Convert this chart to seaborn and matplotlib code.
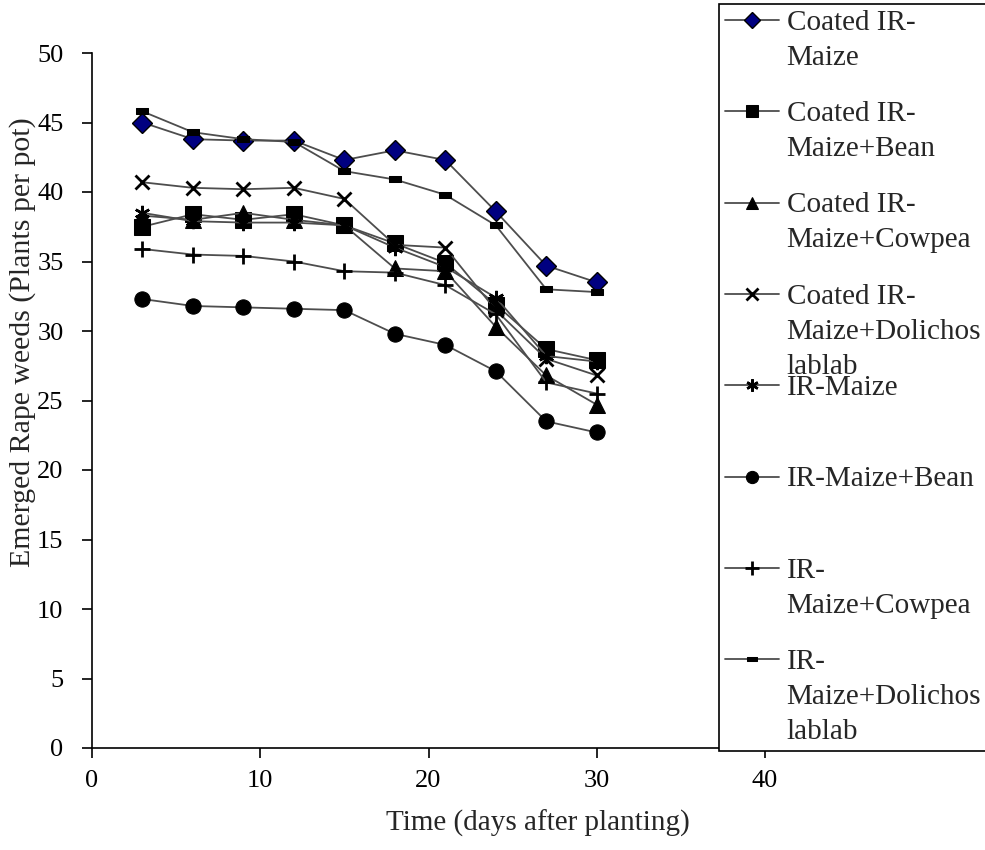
import numpy as np
import pandas as pd
import matplotlib
matplotlib.use("Agg")
import matplotlib.pyplot as plt
import seaborn as sns
from matplotlib.path import Path
from matplotlib.lines import Line2D

# days after planting
days = [3, 6, 9, 12, 15, 18, 21, 24, 27, 30]

coated_ir_maize = [45.0, 43.8, 43.7, 43.7, 42.3, 43.0, 42.3, 38.6, 34.7, 33.5]
coated_ir_maize_bean = [37.5, 38.4, 38.0, 38.4, 37.6, 36.3, 34.9, 31.9, 28.7, 27.9]
coated_ir_maize_cowpea = [38.3, 38.0, 38.5, 38.0, 37.6, 34.5, 34.3, 30.3, 26.8, 24.7]
coated_ir_maize_dolichos = [40.7, 40.3, 40.2, 40.3, 39.5, 36.2, 36.0, 31.5, 28.0, 26.8]
ir_maize = [38.5, 37.9, 37.8, 37.8, 37.6, 36.0, 34.6, 32.4, 28.2, 27.8]
ir_maize_bean = [32.3, 31.8, 31.7, 31.6, 31.5, 29.8, 29.0, 27.1, 23.5, 22.7]
ir_maize_cowpea = [35.9, 35.5, 35.4, 35.0, 34.3, 34.2, 33.3, 31.2, 26.3, 25.5]
ir_maize_dolichos = [45.8, 44.3, 43.8, 43.6, 41.5, 40.9, 39.8, 37.6, 33.0, 32.8]

# legend text, wrapped the way the original chart wraps it
labels = [
    ["Coated IR-", "Maize"],
    ["Coated IR-", "Maize+Bean"],
    ["Coated IR-", "Maize+Cowpea"],
    ["Coated IR-", "Maize+Dolichos", "lablab"],
    ["IR-Maize"],
    ["IR-Maize+Bean"],
    ["IR-", "Maize+Cowpea"],
    ["IR-", "Maize+Dolichos", "lablab"],
]
series = [coated_ir_maize, coated_ir_maize_bean, coated_ir_maize_cowpea,
          coated_ir_maize_dolichos, ir_maize, ir_maize_bean,
          ir_maize_cowpea, ir_maize_dolichos]

# small flat bar marker (Excel "dash")
dash_marker = Path([(-1, -0.45), (1, -0.45), (1, 0.45), (-1, 0.45), (-1, -0.45)],
                   [Path.MOVETO, Path.LINETO, Path.LINETO, Path.LINETO, Path.CLOSEPOLY])

styles = [
    dict(marker="D", ms=10, mfc="#000080", mec="black", mew=1.0),
    dict(marker="s", ms=11, mfc="black", mec="black"),
    dict(marker="^", ms=11, mfc="black", mec="black"),
    dict(marker="x", ms=10, mec="black", mew=2.0),
    dict(marker=(6, 2, 0), ms=11, mec="black", mew=1.8),
    dict(marker="o", ms=11, mfc="black", mec="black"),
    dict(marker="+", ms=12, mec="black", mew=2.0),
    dict(marker=dash_marker, ms=9, mfc="black", mec="black"),
]

sns.set_style("ticks")
plt.rcParams["font.family"] = ["Liberation Serif", "DejaVu Serif"]
plt.rcParams["font.size"] = 19

fig = plt.figure(figsize=(9.85, 8.5), dpi=100)
ax = fig.add_axes([92 / 985, 1 - 748 / 850, (765 - 92) / 985, (748 - 53) / 850])

df = pd.DataFrame({"day": days})
for lab, vals, st in zip(labels, series, styles):
    df["val"] = vals
    sns.lineplot(data=df, x="day", y="val", ax=ax, color="#4d4d4d",
                 linewidth=1.3, label=" ".join(lab), **st)

ax.set_xlim(0, 40)
ax.set_ylim(0, 50)
ax.set_xticks([0, 10, 20, 30, 40])
ax.set_yticks(np.arange(0, 51, 5))
ax.tick_params(axis="both", direction="out", length=7, width=1.2, colors="black",
               labelsize=19)
ax.tick_params(axis="x", pad=9)
ax.tick_params(axis="y", pad=13.5)
for s in ["top", "right"]:
    ax.spines[s].set_visible(False)
for s in ["left", "bottom"]:
    ax.spines[s].set_linewidth(1.2)
    ax.spines[s].set_color("black")

ax.set_xlabel("Time (days after planting)", fontsize=21)
ax.set_ylabel("Emerged Rape weeds (Plants per pot)", fontsize=21.5)
ax.xaxis.set_label_coords(0.663, -0.089)
ax.yaxis.set_label_coords(-0.083, 0.584)

handles, _ = ax.get_legend_handles_labels()
ax.get_legend().remove()

# Excel puts each marker beside the first line of its label and lets the
# wrapped lines run on below, so the legend is built as two layers:
# framed text (every label padded to three lines) + marker column on top.
fs = 21
box = (719 / 985, 0.0, 0.32, 1 - 4 / 850)
common = dict(loc="upper left", bbox_to_anchor=box, fontsize=fs,
              handlelength=1.85, handletextpad=0.27, borderpad=0.2,
              borderaxespad=0)

padded = ["\n".join(lab + [""] * (3 - len(lab))) for lab in labels]
blank = [Line2D([], [], linestyle="none") for _ in labels]
leg_text = fig.legend(blank, padded, frameon=True, fancybox=False, mode="expand",
                      labelspacing=-0.161, **common)
leg_text.get_frame().set_edgecolor("black")
leg_text.get_frame().set_linewidth(1.2)
leg_text.get_frame().set_alpha(1)
for t in leg_text.get_texts():
    t.set_linespacing(1.45)

leg_marks = fig.legend(handles, [" "] * len(handles), frameon=False,
                       labelspacing=2.226, markerscale=0.8, **common)

fig.savefig("out.png", dpi=100)
